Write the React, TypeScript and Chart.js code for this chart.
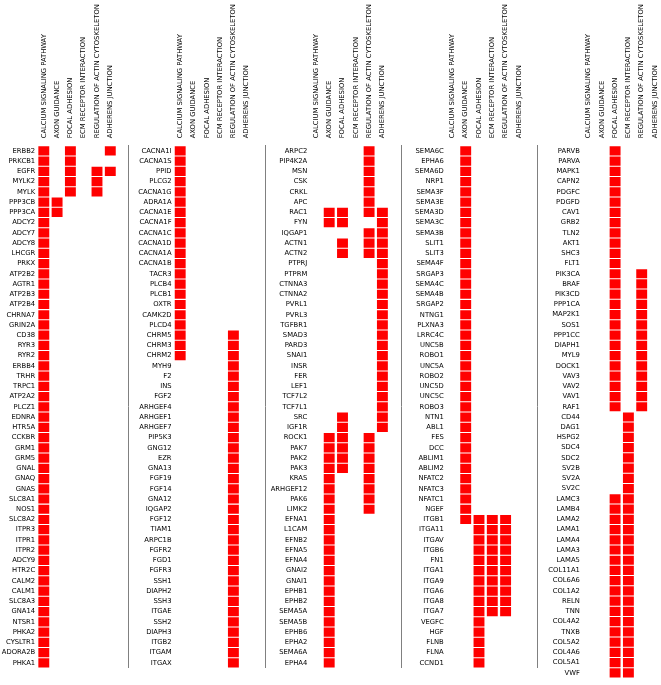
import React, { useEffect, useRef } from "react";
import { Chart, registerables } from "chart.js";

Chart.register(...registerables);

// ---------- DATA ----------
const pathways = [
  "CALCIUM SIGNALING PATHWAY",
  "AXON GUIDANCE",
  "FOCAL ADHESION",
  "ECM RECEPTOR INTERACTION",
  "REGULATION OF ACTIN CYTOSKELETON",
  "ADHERENS JUNCTION",
];

// each membership string lists the pathway column indices a gene belongs to
const panel1Genes = [
  "ERBB2", "PRKCB1", "EGFR", "MYLK2", "MYLK", "PPP3CB", "PPP3CA", "ADCY2", "ADCY7", "ADCY8",
  "LHCGR", "PRKX", "ATP2B2", "AGTR1", "ATP2B3", "ATP2B4", "CHRNA7", "GRIN2A", "CD38", "RYR3",
  "RYR2", "ERBB4", "TRHR", "TRPC1", "ATP2A2", "PLCZ1", "EDNRA", "HTR5A", "CCKBR", "GRM1",
  "GRM5", "GNAL", "GNAQ", "GNAS", "SLC8A1", "NOS1", "SLC8A2", "ITPR3", "ITPR1", "ITPR2",
  "ADCY9", "HTR2C", "CALM2", "CALM1", "SLC8A3", "GNA14", "NTSR1", "PHKA2", "CYSLTR1", "ADORA2B",
  "PHKA1",
];
const panel1Sets = [
  "025", "02", "0245", "024", "024", "01", "01", "0", "0", "0",
  "0", "0", "0", "0", "0", "0", "0", "0", "0", "0",
  "0", "0", "0", "0", "0", "0", "0", "0", "0", "0",
  "0", "0", "0", "0", "0", "0", "0", "0", "0", "0",
  "0", "0", "0", "0", "0", "0", "0", "0", "0", "0",
  "0",
];

const panel2Genes = [
  "CACNA1I", "CACNA1S", "PPID", "PLCG2", "CACNA1G", "ADRA1A", "CACNA1E", "CACNA1F", "CACNA1C", "CACNA1D",
  "CACNA1A", "CACNA1B", "TACR3", "PLCB4", "PLCB1", "OXTR", "CAMK2D", "PLCD4", "CHRM5", "CHRM3",
  "CHRM2", "MYH9", "F2", "INS", "FGF2", "ARHGEF4", "ARHGEF1", "ARHGEF7", "PIP5K3", "GNG12",
  "EZR", "GNA13", "FGF19", "FGF14", "GNA12", "IQGAP2", "FGF12", "TIAM1", "ARPC1B", "FGFR2",
  "FGD1", "FGFR3", "SSH1", "DIAPH2", "SSH3", "ITGAE", "SSH2", "DIAPH3", "ITGB2", "ITGAM",
  "ITGAX",
];
const panel2Sets = [
  "0", "0", "0", "0", "0", "0", "0", "0", "0", "0",
  "0", "0", "0", "0", "0", "0", "0", "0", "04", "04",
  "04", "4", "4", "4", "4", "4", "4", "4", "4", "4",
  "4", "4", "4", "4", "4", "4", "4", "4", "4", "4",
  "4", "4", "4", "4", "4", "4", "4", "4", "4", "4",
  "4",
];

const panel3Genes = [
  "ARPC2", "PIP4K2A", "MSN", "CSK", "CRKL", "APC", "RAC1", "FYN", "IQGAP1", "ACTN1",
  "ACTN2", "PTPRJ", "PTPRM", "CTNNA3", "CTNNA2", "PVRL1", "PVRL3", "TGFBR1", "SMAD3", "PARD3",
  "SNAI1", "INSR", "FER", "LEF1", "TCF7L2", "TCF7L1", "SRC", "IGF1R", "ROCK1", "PAK7",
  "PAK2", "PAK3", "KRAS", "ARHGEF12", "PAK6", "LIMK2", "EFNA1", "L1CAM", "EFNB2", "EFNA5",
  "EFNA4", "GNAI2", "GNAI1", "EPHB1", "EPHB2", "SEMA5A", "SEMA5B", "EPHB6", "EPHA2", "SEMA6A",
  "EPHA4",
];
const panel3Sets = [
  "4", "4", "4", "4", "4", "4", "1245", "125", "45", "245",
  "245", "5", "5", "5", "5", "5", "5", "5", "5", "5",
  "5", "5", "5", "5", "5", "5", "25", "25", "124", "124",
  "124", "124", "14", "14", "14", "14", "1", "1", "1", "1",
  "1", "1", "1", "1", "1", "1", "1", "1", "1", "1",
  "1",
];

const panel4Genes = [
  "SEMA6C", "EPHA6", "SEMA6D", "NRP1", "SEMA3F", "SEMA3E", "SEMA3D", "SEMA3C", "SEMA3B", "SLIT1",
  "SLIT3", "SEMA4F", "SRGAP3", "SEMA4C", "SEMA4B", "SRGAP2", "NTNG1", "PLXNA3", "LRRC4C", "UNC5B",
  "ROBO1", "UNC5A", "ROBO2", "UNC5D", "UNC5C", "ROBO3", "NTN1", "ABL1", "FES", "DCC",
  "ABLIM1", "ABLIM2", "NFATC2", "NFATC3", "NFATC1", "NGEF", "ITGB1", "ITGA11", "ITGAV", "ITGB6",
  "FN1", "ITGA1", "ITGA9", "ITGA6", "ITGA8", "ITGA7", "VEGFC", "HGF", "FLNB", "FLNA",
  "CCND1",
];
const panel4Sets = [
  "1", "1", "1", "1", "1", "1", "1", "1", "1", "1",
  "1", "1", "1", "1", "1", "1", "1", "1", "1", "1",
  "1", "1", "1", "1", "1", "1", "1", "1", "1", "1",
  "1", "1", "1", "1", "1", "1", "1234", "234", "234", "234",
  "234", "234", "234", "234", "234", "234", "2", "2", "2", "2",
  "2",
];

const panel5Genes = [
  "PARVB", "PARVA", "MAPK1", "CAPN2", "PDGFC", "PDGFD", "CAV1", "GRB2", "TLN2", "AKT1",
  "SHC3", "FLT1", "PIK3CA", "BRAF", "PIK3CD", "PPP1CA", "MAP2K1", "SOS1", "PPP1CC", "DIAPH1",
  "MYL9", "DOCK1", "VAV3", "VAV2", "VAV1", "RAF1", "CD44", "DAG1", "HSPG2", "SDC4",
  "SDC2", "SV2B", "SV2A", "SV2C", "LAMC3", "LAMB4", "LAMA2", "LAMA1", "LAMA4", "LAMA3",
  "LAMA5", "COL11A1", "COL6A6", "COL1A2", "RELN", "TNN", "COL4A2", "TNXB", "COL5A2", "COL4A6",
  "COL5A1", "VWF",
];
const panel5Sets = [
  "2", "2", "2", "2", "2", "2", "2", "2", "2", "2",
  "2", "2", "24", "24", "24", "24", "24", "24", "24", "24",
  "24", "24", "24", "24", "24", "24", "3", "3", "3", "3",
  "3", "3", "3", "3", "23", "23", "23", "23", "23", "23",
  "23", "23", "23", "23", "23", "23", "23", "23", "23", "23",
  "23", "23",
];

// ---------- LAYOUT ----------
const FONT = "'DejaVu Sans', sans-serif";
const FONT_SIZE = 6.8;
const ROW = 10.33;
const COL = 13.3;
const PLOT_TOP = 145.83;
const X_MIN = -0.5;
const X_MAX = 6.4;
const HALF = 0.41;
const Y_AXIS_W = 42;

type PanelSpec = { genes: string[]; sets: string[]; col0: number; spine: boolean };

const panelSpecs: PanelSpec[] = [
  { genes: panel1Genes, sets: panel1Sets, col0: 43.8, spine: true },
  { genes: panel2Genes, sets: panel2Sets, col0: 180.2, spine: true },
  { genes: panel3Genes, sets: panel3Sets, col0: 315.9, spine: true },
  { genes: panel4Genes, sets: panel4Sets, col0: 452.4, spine: true },
  { genes: panel5Genes, sets: panel5Sets, col0: 588.5, spine: false },
];

function Panel({ spec }: { spec: PanelSpec }) {
  const ref = useRef<HTMLCanvasElement | null>(null);
  const plotLeft = spec.col0 - 0.5 * COL;
  const plotW = (X_MAX - X_MIN) * COL;
  const canvasLeft = Math.floor(plotLeft - Y_AXIS_W);
  const yw = plotLeft - canvasLeft;
  const width = Math.ceil(yw + plotW + 3);
  const rightPad = width - yw - plotW;
  const plotH = spec.genes.length * ROW;
  const height = Math.ceil(PLOT_TOP + plotH + 1);
  const bottomPad = height - PLOT_TOP - plotH;

  useEffect(() => {
    if (!ref.current) return;
    const datasets = pathways.map((name, c) => ({
      label: name,
      data: spec.genes.map((_, i) =>
        spec.sets[i].includes(String(c)) ? [c - HALF, c + HALF] : null
      ),
      backgroundColor: "#ff0000",
      borderWidth: 0,
      grouped: false,
      categoryPercentage: 1,
      barPercentage: 0.9,
    }));
    const scales: any = {
      x: {
        type: "linear",
        position: "top",
        min: X_MIN,
        max: X_MAX,
        grid: { display: false, drawTicks: false },
        border: { display: false },
        afterBuildTicks: (s: any) => {
          s.ticks = pathways.map((_, i) => ({ value: i }));
        },
        afterFit: (s: any) => {
          s.height = PLOT_TOP;
        },
        ticks: {
          autoSkip: false,
          minRotation: 90,
          maxRotation: 90,
          padding: 7.5,
          labelOffset: FONT_SIZE * 1.2,
          color: "#000",
          font: { family: FONT, size: FONT_SIZE },
          callback: (v: any) => pathways[v] ?? "",
        },
      },
      y: {
        type: "category",
        position: "left",
        grid: { display: false, drawTicks: false },
        border: { display: false },
        afterFit: (s: any) => {
          s.width = yw;
        },
        ticks: {
          autoSkip: false,
          padding: 2,
          color: "#000",
          font: { family: FONT, size: FONT_SIZE },
        },
      },
    };
    if (spec.spine) {
      scales.y2 = {
        type: "category",
        position: "right",
        grid: { display: false, drawTicks: false },
        ticks: { display: false },
        border: { display: true, color: "#808080", width: 1 },
      };
    }
    const chart = new Chart(ref.current, {
      type: "bar",
      data: { labels: spec.genes, datasets: datasets as any },
      options: {
        indexAxis: "y",
        responsive: false,
        animation: false,
        layout: { padding: { top: 0, left: 0, right: rightPad, bottom: bottomPad } },
        plugins: { legend: { display: false }, tooltip: { enabled: false } },
        scales,
      } as any,
    });
    return () => chart.destroy();
  }, []);

  return (
    <canvas
      ref={ref}
      width={width}
      height={height}
      style={{ position: "absolute", left: canvasLeft, top: 0, width, height }}
    />
  );
}

export default function App() {
  return (
    <div
      style={{
        position: "absolute",
        left: 0,
        top: 0,
        width: 661,
        height: 685,
        overflow: "hidden",
        background: "#fff",
      }}
    >
      {panelSpecs.map((s, i) => (
        <Panel key={i} spec={s} />
      ))}
    </div>
  );
}
